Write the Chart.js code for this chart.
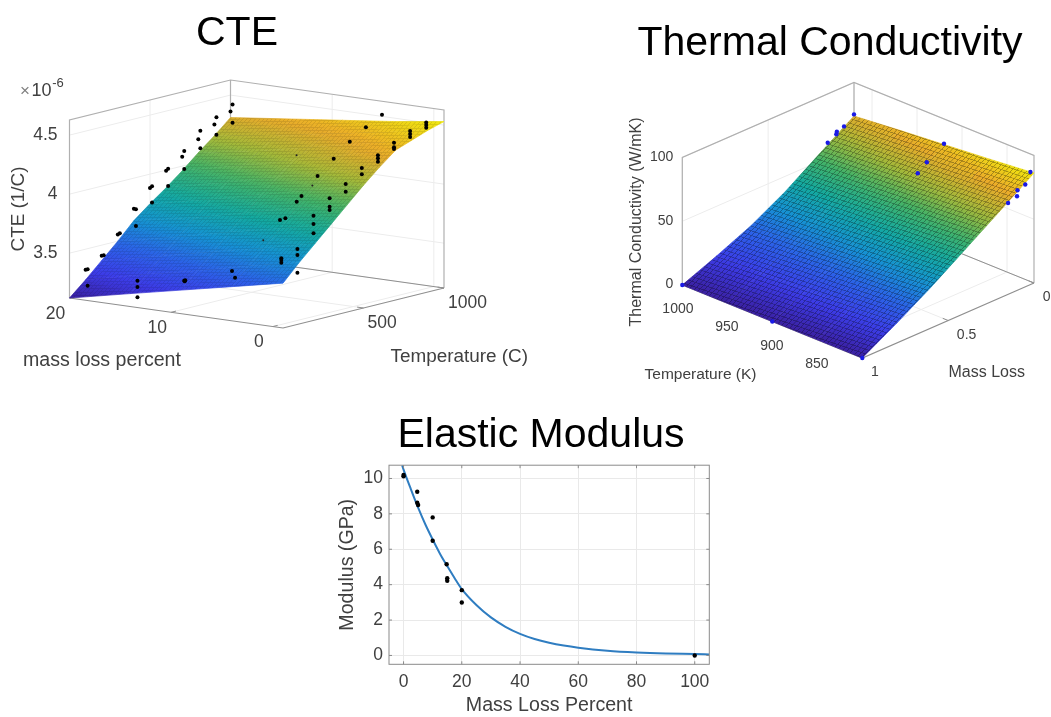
<!DOCTYPE html>
<html>
<head>
<meta charset="utf-8">
<title>CTE, Thermal Conductivity, Elastic Modulus</title>
<script src="https://cdn.jsdelivr.net/npm/chart.js@4"></script>
<style>
  html, body { margin: 0; background: #fff; overflow: hidden; }
  #page { position: relative; width: 1051px; height: 717px; overflow: hidden; }
  canvas { position: absolute; display: block; }
  #cte { left: -53px; top: 0; }
  #thermal { left: 609px; top: 0; }
  #modulus { left: 330px; top: 402px; }
</style>
</head>
<body>
<div id="page">
  <canvas id="cte" width="580" height="390"></canvas>
  <canvas id="thermal" width="442" height="400"></canvas>
  <canvas id="modulus" width="422" height="315"></canvas>
</div>
<script>
// CTE surface, rows follow cteGridTemp, columns follow cteGridMass (x 1e-6 1/C)
const cteGridMass = [-1, 4, 9, 14, 20];
const cteGridTemp = [0, 100, 200, 300, 400, 500, 600, 700, 800, 900, 1000];
const cteGridValues = [
  [3.50, 3.41, 3.32, 3.23, 3.12],
  [3.64, 3.55, 3.45, 3.36, 3.24],
  [3.77, 3.67, 3.58, 3.48, 3.37],
  [3.90, 3.80, 3.71, 3.61, 3.50],
  [4.03, 3.94, 3.84, 3.74, 3.64],
  [4.16, 4.06, 3.96, 3.86, 3.75],
  [4.28, 4.18, 4.08, 3.97, 3.85],
  [4.39, 4.29, 4.18, 4.08, 3.96],
  [4.44, 4.35, 4.26, 4.17, 4.08],
  [4.49, 4.41, 4.34, 4.26, 4.19],
  [4.53, 4.47, 4.42, 4.37, 4.31]
];
const cteMassTicks = [0, 10, 20];
const cteTempTicks = [500, 1000];
const cteValueTicks = [3.5, 4, 4.5];

// measured CTE samples
const ctePointTemp = [
  100, 100, 100, 200, 200, 300, 300, 400, 400, 400, 500, 500, 500, 600, 600, 600, 700, 700, 700,
  800, 800, 800, 900, 900, 900, 1000, 1000, 1000,
  100, 100, 100, 100, 100, 100, 100, 100,
  100, 100, 100, 200, 200, 200, 300, 300, 300, 400, 400, 400, 500, 500, 600, 600,
  700, 700, 700, 800, 800, 800, 900, 900, 900, 1000, 1000, 1000,
  1000, 900, 800, 700, 600, 500, 400, 500, 400
];
const ctePointMass = [
  19.8, 20, 19.8, 19.8, 20, 20, 19.8, 20, 19.8, 19.8, 20, 19.8, 19.8, 20, 19.8, 19.8, 20, 19.8, 19.8,
  20, 19.8, 19.8, 20, 19.8, 19.8, 20, 19.8, 19.8,
  14.9, 14.9, 10.25, 10.2, 5.6, 5.3, 14.9, 10.3,
  0.75, 0.75, 0.75, 0.75, 0.75, 0.75, 0.75, 0.75, 0.75, 0.75, 0.75, 0.75, 0.75, 0.75, 0.75, 0.75,
  0.75, 0.75, 0.75, 0.75, 0.75, 0.75, 0.75, 0.75, 0.75, 0.75, 0.75, 0.75,
  5.1, 5.1, 5.1, 5.1, 5.1, 5.1, 5.1, 5.57, 5.63
];
const ctePointValue = [
  3.332, 3.326, 3.193, 3.417, 3.41, 3.557, 3.569, 3.741, 3.739, 3.597, 3.883, 3.90, 3.761, 3.995, 4.015, 3.868, 4.08, 4.131, 3.978,
  4.193, 4.269, 4.12, 4.284, 4.349, 4.201, 4.362, 4.422, 4.269,
  3.295, 3.154, 3.345, 3.356, 3.49, 3.436, 3.24, 3.35,
  3.656, 3.64, 3.618, 3.70, 3.65, 3.50, 3.949, 3.878, 3.80, 4.062, 3.991, 3.963, 4.15, 4.084, 4.251, 4.198,
  4.325, 4.30, 4.271, 4.398, 4.359, 4.345, 4.463, 4.438, 4.412, 4.50, 4.48, 4.456,
  4.514, 4.441, 4.353, 4.243, 4.13, 3.995, 3.84, 3.94, 3.82
];
// samples sitting just under the surface, only a speck shows
const cteHiddenTemp = [1000, 700, 300];
const cteHiddenMass = [13.5, 7.2, 5.69];
const cteHiddenValue = [4.07, 3.99, 3.68];

// thermal conductivity surface, rows follow thermalGridTemp, columns follow thermalGridMass
const thermalGridMass = [1, 0.8, 0.6, 0.4, 0.2, 0];
const thermalGridTemp = [820, 870, 920, 970, 1020];
const thermalGridValues = [
  [0, 15.5, 32, 50, 68, 86.3],
  [0, 14, 29.5, 47, 65, 83],
  [0, 13, 27, 44, 62, 80],
  [0, 12, 25, 41, 59, 77],
  [0, 11, 23, 38, 56, 73.7]
];
const thermalMassTicks = [1, 0.5, 0];
const thermalTempTicks = [1000, 950, 900, 850];
const thermalValueTicks = [0, 50, 100];
const thermalPointTemp = [1020, 920, 820, 1020, 920, 824, 1020, 1020, 1020, 1020, 920, 920, 824, 824, 824, 824];
const thermalPointMass = [1, 1, 1, 0, 0, 0, 0.1, 0.103, 0.153, 0.058, 0.1, 0.153, 0.03, 0.075, 0.078, 0.13];
const thermalPointValue = [0, 0, 0, 75, 80.6, 85.9, 67.3, 65.5, 61.8, 69, 72, 66.4, 77.9, 76, 71.5, 69.3];

// elastic modulus
const modulusPointX = [0, 0, 4.7, 4.7, 5, 10, 10, 14.8, 15, 15, 20, 20, 100];
const modulusPointY = [10.2, 10.12, 9.25, 8.63, 8.5, 7.8, 6.48, 5.15, 4.36, 4.22, 3.69, 2.99, 0];
const modulusCurveX = [-0.5, 0, 2.5, 5, 7.5, 10, 12.5, 15, 17.5, 20, 25, 30, 35, 40, 45, 50, 55, 60, 70, 80, 90, 100, 105];
const modulusCurveY = [10.75, 10.5, 9.4, 8.35, 7.4, 6.55, 5.75, 5.05, 4.38, 3.75, 2.85, 2.15, 1.62, 1.22, 0.93, 0.72, 0.56, 0.44, 0.27, 0.17, 0.11, 0.08, 0.06];
const modulusXTicks = [0, 20, 40, 60, 80, 100];
const modulusYTicks = [0, 2, 4, 6, 8, 10];

const parula = ['#3a20a0', '#3c3ce8', '#2c62e8', '#1593d2', '#14a9a0', '#42b268', '#a6b838', '#ebaa2a', '#f0e80e'];

const TEXT = '#404040';
const FONT = '"Liberation Sans", Arial, sans-serif';
Chart.defaults.font.family = FONT;
Chart.defaults.animation = false;
Chart.defaults.events = [];

// box of each 3d plot: o is the front floor corner on the page, a and b are the
// floor edges for mass and temperature, h the height of the box
const cteView = { o: [283, 328], a: [-213.5, -30], b: [161, -40], h: 178, mLim: [-1, 20], tLim: [0, 1000], zLim: [3.12, 4.628] };
const thermalView = { o: [862.3, 358], a: [171.7, -75], b: [-180, -73], h: 127.5, mLim: [1, 0], tLim: [820, 1020], zLim: [0, 100] };

function project(v, m, t, z) {
  const fm = (m - v.mLim[0]) / (v.mLim[1] - v.mLim[0]);
  const ft = (t - v.tLim[0]) / (v.tLim[1] - v.tLim[0]);
  const fz = (z - v.zLim[0]) / (v.zLim[1] - v.zLim[0]);
  return {
    x: v.o[0] + v.a[0] * fm + v.b[0] * ft,
    y: v.o[1] + v.a[1] * fm + v.b[1] * ft - v.h * fz
  };
}

function parulaColor(f) {
  const p = Math.max(0, Math.min(1, f)) * (parula.length - 1);
  const i = Math.min(parula.length - 2, Math.floor(p));
  const c1 = parula[i], c2 = parula[i + 1], w = p - i;
  const ch = k => {
    const a = parseInt(c1.substr(k, 2), 16), b = parseInt(c2.substr(k, 2), 16);
    return Math.round(a + (b - a) * w);
  };
  return `rgb(${ch(1)},${ch(3)},${ch(5)})`;
}

function lineSet(points, color, width) {
  return { data: points, showLine: true, pointRadius: 0, borderColor: color, borderWidth: width, fill: false, tension: 0 };
}

// colour of one surface cell runs along the steepest direction of its value on the page
function cellGradient(context, pts, vals, lo, hi) {
  const { chart } = context;
  const p = pts.map(q => [chart.scales.x.getPixelForValue(q.x), chart.scales.y.getPixelForValue(q.y)]);
  const du = [(p[1][0] + p[2][0] - p[0][0] - p[3][0]) / 2, (p[1][1] + p[2][1] - p[0][1] - p[3][1]) / 2];
  const dv = [(p[3][0] + p[2][0] - p[0][0] - p[1][0]) / 2, (p[3][1] + p[2][1] - p[0][1] - p[1][1]) / 2];
  const vu = (vals[1] + vals[2] - vals[0] - vals[3]) / 2;
  const vv = (vals[3] + vals[2] - vals[0] - vals[1]) / 2;
  const det = du[0] * dv[1] - du[1] * dv[0];
  const g = [(vu * dv[1] - vv * du[1]) / det, (du[0] * vv - dv[0] * vu) / det];
  const gg = g[0] * g[0] + g[1] * g[1];
  const mid = vals.reduce((s, a) => s + a, 0) / 4;
  const low = Math.min(...vals), high = Math.max(...vals);
  if (!gg || low === high) return parulaColor((mid - lo) / (hi - lo));
  const cx = (p[0][0] + p[1][0] + p[2][0] + p[3][0]) / 4;
  const cy = (p[0][1] + p[1][1] + p[2][1] + p[3][1]) / 4;
  const grad = chart.ctx.createLinearGradient(
    cx + g[0] * (low - mid) / gg, cy + g[1] * (low - mid) / gg,
    cx + g[0] * (high - mid) / gg, cy + g[1] * (high - mid) / gg
  );
  for (let s = 0; s <= 4; s++) {
    grad.addColorStop(s / 4, parulaColor((low + (high - low) * s / 4 - lo) / (hi - lo)));
  }
  return grad;
}

function surfaceCells(view, masses, temps, table) {
  const flat = table.flat();
  const lo = Math.min(...flat), hi = Math.max(...flat);
  const sets = [];
  for (let i = 0; i < temps.length - 1; i++) {
    for (let j = 0; j < masses.length - 1; j++) {
      const idx = [[i, j], [i, j + 1], [i + 1, j + 1], [i + 1, j]];
      const vals = idx.map(c => table[c[0]][c[1]]);
      const pts = idx.map(c => project(view, masses[c[1]], temps[c[0]], table[c[0]][c[1]]));
      const paint = ctx => cellGradient(ctx, pts, vals, lo, hi);
      sets.push({
        data: pts.concat([pts[0]]), showLine: true, pointRadius: 0, tension: 0, fill: 'shape',
        backgroundColor: paint, borderColor: paint, borderWidth: 0.7
      });
    }
  }
  return sets;
}

// the fine mesh of the surface plot, a repeated cell laid over the surface outline
function surfaceMesh(view, masses, temps, table, cell) {
  const outline = [];
  temps.forEach((t, i) => outline.push(project(view, masses[0], t, table[i][0])));
  masses.forEach((m, j) => outline.push(project(view, m, temps[temps.length - 1], table[temps.length - 1][j])));
  for (let i = temps.length - 1; i >= 0; i--) outline.push(project(view, masses[masses.length - 1], temps[i], table[i][masses.length - 1]));
  for (let j = masses.length - 1; j >= 0; j--) outline.push(project(view, masses[j], temps[0], table[0][j]));
  let pattern = null;
  return {
    data: outline, showLine: true, pointRadius: 0, borderWidth: 0, tension: 0, fill: 'shape',
    backgroundColor: ctx => {
      if (pattern) return pattern;
      const tile = document.createElement('canvas');
      tile.width = tile.height = 16;
      const c = tile.getContext('2d');
      c.fillStyle = `rgba(0,0,0,${cell.alpha})`;
      c.fillRect(0, 0, 16, cell.width);
      c.fillRect(0, cell.width, cell.width, 16 - cell.width);
      pattern = ctx.chart.ctx.createPattern(tile, 'repeat');
      const s = ctx.chart.scales;
      const ox = s.x.getPixelForValue(outline[0].x), oy = s.y.getPixelForValue(outline[0].y);
      pattern.setTransform(new DOMMatrix([cell.u[0] / 16, cell.u[1] / 16, cell.v[0] / 16, cell.v[1] / 16, ox, oy]));
      return pattern;
    }
  };
}

// walls, floor, grid and ticks of a 3d box
function boxSets(view, massTicks, tempTicks, zTicks) {
  const [m0, m1] = view.mLim, [t0, t1] = view.tLim, [z0, z1] = view.zLim;
  const P = (m, t, z) => project(view, m, t, z);
  const grid = '#ececec', edge = '#b0b0b0', axis = '#8f8f8f';
  const sets = [];
  // front edges of the floor and short ticks
  sets.push(lineSet([P(m1, t0, z0), P(m0, t0, z0), P(m0, t1, z0)], axis, 1.2));
  massTicks.forEach(m => sets.push(lineSet([P(m, t0, z0), P(m, t0 + (t1 - t0) * 0.03, z0)], axis, 1)));
  tempTicks.forEach(t => sets.push(lineSet([P(m0, t, z0), P(m0 + (m1 - m0) * 0.03, t, z0)], axis, 1)));
  // back edges
  sets.push(lineSet([P(m1, t0, z0), P(m1, t0, z1), P(m1, t1, z1), P(m0, t1, z1), P(m0, t1, z0)], edge, 1.2));
  sets.push(lineSet([P(m1, t1, z0), P(m1, t1, z1)], edge, 1.2));
  sets.push(lineSet([P(m1, t0, z0), P(m1, t1, z0), P(m0, t1, z0)], axis, 1));
  zTicks.forEach(z => {
    sets.push(lineSet([P(m1, t0, z), P(m1, t1, z), P(m0, t1, z)], grid, 1));
  });
  massTicks.forEach(m => sets.push(lineSet([P(m, t0, z0), P(m, t1, z0), P(m, t1, z1)], grid, 1)));
  tempTicks.forEach(t => sets.push(lineSet([P(m0, t, z0), P(m1, t, z0), P(m1, t, z1)], grid, 1)));
  return sets;
}

function pointsOf(view, temps, masses, values, color, radius) {
  return {
    data: temps.map((t, i) => project(view, masses[i], t, values[i])),
    showLine: false, pointRadius: radius, pointBackgroundColor: color, pointBorderWidth: 0
  };
}

// text of the 3d plots, placed on the same scales as the marks
function textPlugin(items) {
  return {
    id: 'boxText',
    afterDraw(chart) {
      const { ctx, scales } = chart;
      items.forEach(it => {
        ctx.save();
        ctx.translate(scales.x.getPixelForValue(it.x), scales.y.getPixelForValue(it.y));
        if (it.rot) ctx.rotate(it.rot);
        ctx.font = `${it.size}px ${FONT}`;
        ctx.fillStyle = it.color || TEXT;
        ctx.textAlign = it.align || 'center';
        ctx.textBaseline = 'middle';
        ctx.fillText(it.text, 0, 0);
        ctx.restore();
      });
    }
  };
}

function boxChart(id, left, top, title, titleTop, datasets, items) {
  const canvas = document.getElementById(id);
  const titleHeight = 41 * 1.2 + titleTop;
  return new Chart(canvas, {
    type: 'scatter',
    data: { datasets },
    options: {
      responsive: false,
      layout: { padding: 0, autoPadding: false },
      scales: {
        x: { display: false, min: left, max: left + canvas.width },
        y: { display: false, reverse: true, min: top + titleHeight, max: top + canvas.height }
      },
      plugins: {
        legend: { display: false },
        tooltip: { enabled: false },
        title: {
          display: true, text: title, color: '#000',
          font: { size: 41, weight: 'normal', family: FONT, lineHeight: 1.2 },
          padding: { top: titleTop, bottom: 0 }
        }
      }
    },
    plugins: [textPlugin(items)]
  });
}

// CTE
const cteItems = [
  { text: '×', x: 25, y: 91, size: 17, color: '#808080' },
  { text: '10', x: 41.5, y: 91, size: 18 },
  { text: '-6', x: 58, y: 83, size: 13 },
  { text: 'CTE (1/C)', x: 18.5, y: 209, size: 18.9, rot: -Math.PI / 2 },
  { text: 'mass loss percent', x: 102, y: 361, size: 19.6 },
  { text: 'Temperature (C)', x: 390.5, y: 357, size: 18.9, align: 'left' }
];
cteValueTicks.forEach(z => {
  const p = project(cteView, 20, 0, z);
  cteItems.push({ text: String(z), x: p.x - 12, y: p.y + 0.5, size: 17.5, align: 'right' });
});
cteMassTicks.forEach(m => {
  const p = project(cteView, m, 0, cteView.zLim[0]);
  cteItems.push({ text: String(m), x: p.x - 14, y: p.y + 15.8, size: 17.5 });
});
cteTempTicks.forEach(t => {
  const p = project(cteView, cteView.mLim[0], t, cteView.zLim[0]);
  cteItems.push({ text: String(t), x: p.x + 4, y: p.y + 15.5, size: 17.5, align: 'left' });
});

boxChart('cte', -53, 0, 'CTE', 9, [
  pointsOf(cteView, ctePointTemp, ctePointMass, ctePointValue, '#000', 2),
  pointsOf(cteView, cteHiddenTemp, cteHiddenMass, cteHiddenValue, '#222', 1),
  surfaceMesh(cteView, cteGridMass, cteGridTemp, cteGridValues, { u: [-4.27, 0.1], v: [3.22, -3.4], alpha: 0.1, width: 4 }),
  ...surfaceCells(cteView, cteGridMass, cteGridTemp, cteGridValues),
  ...boxSets(cteView, cteMassTicks, cteTempTicks, cteValueTicks)
], cteItems);

// thermal conductivity
const thermalItems = [
  { text: 'Thermal Conductivity (W/mK)', x: 637, y: 222, size: 16, rot: -Math.PI / 2 },
  { text: 'Temperature (K)', x: 700.5, y: 375, size: 15.5 },
  { text: 'Mass Loss', x: 986.7, y: 373, size: 16 }
];
thermalValueTicks.forEach(z => {
  const q = project(thermalView, 1, 1020, z);
  thermalItems.push({ text: String(z), x: q.x - 9, y: q.y - 0.5, size: 14, align: 'right' });
});
thermalTempTicks.forEach(t => {
  const p = project(thermalView, 1, t, 0);
  thermalItems.push({ text: String(t), x: p.x - 6.8, y: p.y + 17, size: 14, align: 'right' });
});
thermalMassTicks.forEach(m => {
  const p = project(thermalView, m, 820, 0);
  thermalItems.push({ text: String(m), x: p.x + 8.7, y: p.y + 14.5, size: 14, align: 'left' });
});

boxChart('thermal', 609, 0, 'Thermal Conductivity', 19, [
  pointsOf(thermalView, thermalPointTemp, thermalPointMass, thermalPointValue, '#1a1ae6', 2.2),
  surfaceMesh(thermalView, thermalGridMass, thermalGridTemp, thermalGridValues, { u: [3.43, -3.54], v: [-4, -1.35], alpha: 0.3, width: 3 }),
  ...surfaceCells(thermalView, thermalGridMass, thermalGridTemp, thermalGridValues),
  ...boxSets(thermalView, thermalMassTicks, thermalTempTicks, thermalValueTicks)
], thermalItems);

// elastic modulus, ticks point inwards on all four sides
const innerTicks = {
  id: 'innerTicks',
  afterDatasetsDraw(chart) {
    const { ctx, chartArea: a, scales } = chart;
    ctx.save();
    ctx.strokeStyle = '#8a8a8a';
    ctx.lineWidth = 1;
    ctx.strokeRect(a.left, a.top, a.right - a.left, a.bottom - a.top);
    ctx.beginPath();
    scales.x.ticks.forEach(t => {
      const px = scales.x.getPixelForValue(t.value);
      ctx.moveTo(px, a.bottom); ctx.lineTo(px, a.bottom - 3);
      ctx.moveTo(px, a.top); ctx.lineTo(px, a.top + 3);
    });
    scales.y.ticks.forEach(t => {
      const py = scales.y.getPixelForValue(t.value);
      ctx.moveTo(a.left, py); ctx.lineTo(a.left + 3, py);
      ctx.moveTo(a.right, py); ctx.lineTo(a.right - 3, py);
    });
    ctx.stroke();
    ctx.restore();
  }
};

new Chart(document.getElementById('modulus'), {
  type: 'scatter',
  data: {
    datasets: [
      { data: modulusPointX.map((x, i) => ({ x, y: modulusPointY[i] })), pointRadius: 2.2, pointBackgroundColor: '#000', pointBorderWidth: 0, showLine: false },
      { data: modulusCurveX.map((x, i) => ({ x, y: modulusCurveY[i] })), showLine: true, pointRadius: 0, borderColor: '#2f7dc1', borderWidth: 2, cubicInterpolationMode: 'monotone', fill: false }
    ]
  },
  options: {
    responsive: false,
    layout: { padding: 0, autoPadding: false },
    scales: {
      x: {
        min: -5, max: 105,
        afterBuildTicks: s => { s.ticks = modulusXTicks.map(value => ({ value })); },
        afterFit: s => { s.height = 52.7; },
        ticks: { color: TEXT, font: { size: 17.5 }, padding: 7, maxRotation: 0 },
        grid: { color: '#e9e9e9', drawTicks: false },
        border: { display: false },
        title: { display: true, text: 'Mass Loss Percent', color: TEXT, font: { size: 19.6 }, padding: { top: 1, bottom: 0 } }
      },
      y: {
        min: -0.5, max: 10.75,
        afterBuildTicks: s => { s.ticks = modulusYTicks.map(value => ({ value })); },
        afterFit: s => { s.width = 59; },
        ticks: { color: TEXT, font: { size: 17.5 }, padding: 6 },
        grid: { color: '#e9e9e9', drawTicks: false },
        border: { display: false },
        title: { display: true, text: 'Modulus (GPa)', color: TEXT, font: { size: 19.6 }, padding: { top: 6, bottom: 0 } }
      },
      // empty side axis, keeps the title centred over the whole canvas
      spare: {
        position: 'right', min: 0, max: 1,
        afterFit: s => { s.width = 42.7; },
        ticks: { display: false },
        grid: { display: false },
        border: { display: false }
      }
    },
    plugins: {
      legend: { display: false },
      tooltip: { enabled: false },
      title: {
        display: true, text: 'Elastic Modulus', color: '#000',
        font: { size: 41, weight: 'normal', family: FONT, lineHeight: 1.2 },
        padding: { top: 9, bottom: 5 }
      }
    }
  },
  plugins: [innerTicks]
});
</script>
</body>
</html>
